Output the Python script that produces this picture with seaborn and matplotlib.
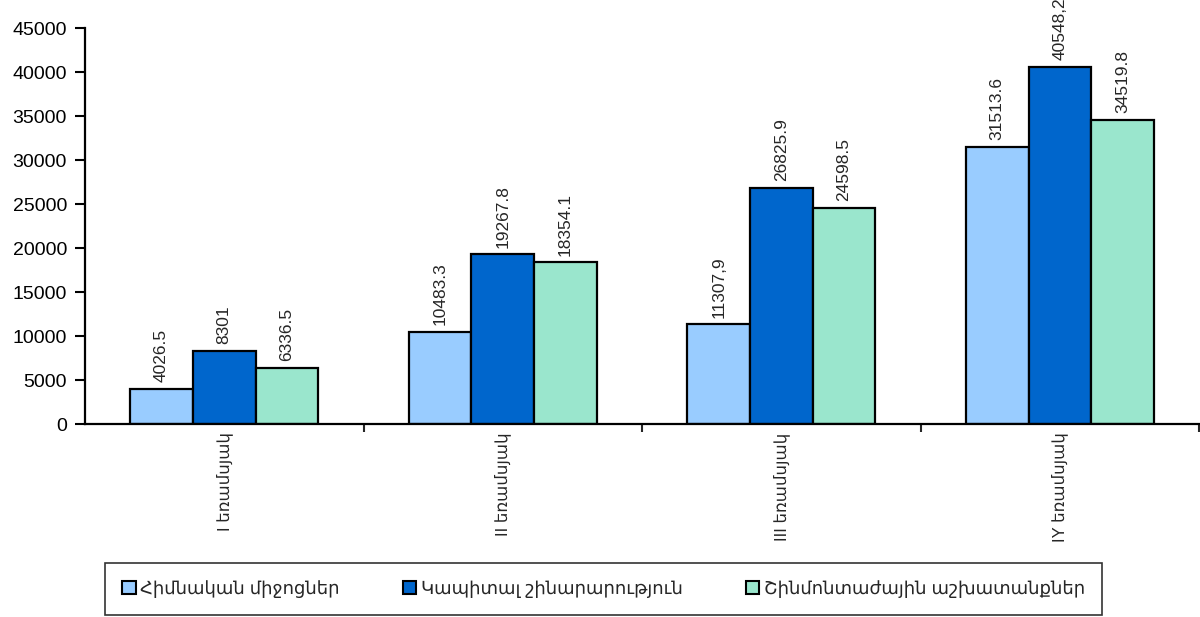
import pandas as pd
import matplotlib.pyplot as plt
import seaborn as sns

quarters = ["I եռամսյակ", "II եռամսյակ", "III եռամսյակ", "IY եռամսյակ"]
series_names = ["Հիմնական միջոցներ", "Կապիտալ շինարարություն", "Շինմոնտաժային աշխատանքներ"]
fixed_assets = [4026.5, 10483.3, 11307.9, 31513.6]
capital_construction = [8301, 19267.8, 26825.9, 40548.2]
construction_works = [6336.5, 18354.1, 24598.5, 34519.8]
# labels as printed on the chart (some use comma)
labels_fixed = ["4026.5", "10483.3", "11307,9", "31513.6"]
labels_capital = ["8301", "19267.8", "26825.9", "40548,2"]
labels_works = ["6336.5", "18354.1", "24598.5", "34519.8"]
yticks = [0, 5000, 10000, 15000, 20000, 25000, 30000, 35000, 40000, 45000]

colors = {series_names[0]: "#99CCFF", series_names[1]: "#0066CC", series_names[2]: "#9AE6CD"}

rows = []
for name, vals in zip(series_names, [fixed_assets, capital_construction, construction_works]):
    for q, v in zip(quarters, vals):
        rows.append({"Quarter": q, "Series": name, "Value": v})
df = pd.DataFrame(rows)

sns.set_style("ticks")
plt.rcParams['font.family'] = ['Liberation Sans', 'DejaVu Sans']

fig = plt.figure(figsize=(12, 6.17), dpi=100)
ax = fig.add_axes([0.0708, 0.3128, 0.9285, 0.6418])

sns.barplot(data=df, x="Quarter", y="Value", hue="Series", palette=colors,
            width=0.675, edgecolor="black", linewidth=1.6, saturation=1,
            ax=ax, legend=False)

for cont, labs in zip(ax.containers, [labels_fixed, labels_capital, labels_works]):
    ax.bar_label(cont, labels=labs, rotation=90, padding=5, fontsize=12.5)

ax.set_xlim(-0.5, 3.5)
ax.set_ylim(0, 45000)
ax.set_yticks(yticks)
ax.set_yticklabels([str(t) for t in yticks], fontsize=14)
ax.set_xticks(range(len(quarters)))
ax.set_xticklabels(quarters, rotation=90, fontsize=12, va="top")
ax.tick_params(axis="x", which="major", length=0, pad=6)
ax.set_xticks([0.5, 1.5, 2.5, 3.5], minor=True)
ax.tick_params(axis="x", which="minor", length=6, width=1.5, direction="out")
ax.tick_params(axis="y", length=7, width=1.5, direction="out", colors="black", pad=6)
ax.set_xlabel("")
ax.set_ylabel("")
for s in ["top", "right"]:
    ax.spines[s].set_visible(False)
for s in ["left", "bottom"]:
    ax.spines[s].set_linewidth(1.6)
    ax.spines[s].set_color("black")

handles = [plt.Rectangle((0, 0), 1, 1, facecolor=colors[n], edgecolor="black", linewidth=1.5)
           for n in series_names]
leg = fig.legend(handles, series_names, loc="center", ncol=3,
                 bbox_to_anchor=(0.503, 0.046), fontsize=13,
                 frameon=True, fancybox=False, shadow=False, handlelength=0.75,
                 handleheight=0.75, handletextpad=0.25, columnspacing=3.5,
                 borderpad=0.95, borderaxespad=0)
leg.get_frame().set_edgecolor("black")
leg.get_frame().set_linewidth(1.2)

plt.savefig("out.png", dpi=100)
